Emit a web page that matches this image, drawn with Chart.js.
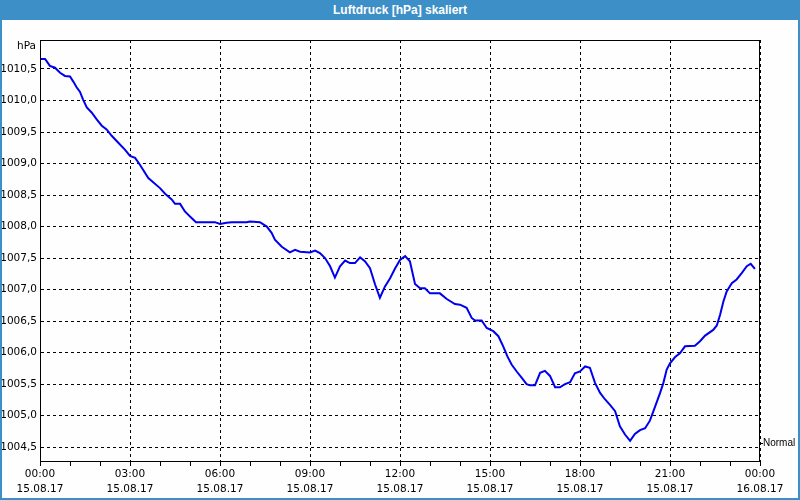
<!DOCTYPE html>
<html>
<head>
<meta charset="utf-8">
<script src="https://cdn.jsdelivr.net/npm/chart.js@4"></script>
<style>
    html, body { margin: 0; padding: 0; background: #fff; }
    #titlebar {
        width: 800px; height: 20px; background: #3d8fc7; color: #fff;
        font: bold 12px "Liberation Sans", Arial, sans-serif;
        text-align: center; line-height: 20px;
    }
    #wrap {
        width: 796px; height: 478px; border: 2px solid #3d8fc7; border-top: none;
        background: #fdfefd;
    }
</style>
</head>
<body>
<div id="titlebar">Luftdruck [hPa] skaliert</div>
<div id="wrap"><canvas id="chart" width="796" height="478"></canvas></div>
<script>
// Time in hours since 15.08.17 00:00
const hours = [0, 0.17, 0.33, 0.5, 0.67, 0.83, 1.0, 1.11, 1.22, 1.33, 1.44, 1.56, 1.72, 1.89,
    2.06, 2.22, 2.39, 2.61, 2.83, 3.0, 3.17, 3.33, 3.61, 4.0, 4.17, 4.39, 4.5, 4.67, 4.83,
    5.0, 5.2, 5.83, 6.0, 6.22, 6.39, 6.89, 7.0, 7.33, 7.56, 7.72, 7.83, 8.06, 8.33, 8.5,
    8.67, 9.0, 9.17, 9.33, 9.5, 9.67, 9.83, 10.0, 10.17, 10.33, 10.5, 10.67, 10.83, 11.0,
    11.17, 11.33, 11.5, 11.67, 11.83, 12.0, 12.17, 12.33, 12.5, 12.67, 12.83, 13.0, 13.33,
    13.56, 13.83, 14.0, 14.22, 14.39, 14.5, 14.72, 14.89, 15.11, 15.28, 15.44, 15.58, 15.72,
    15.89, 16.06, 16.22, 16.33, 16.5, 16.67, 16.83, 17.0, 17.17, 17.33, 17.5, 17.67, 17.83,
    18.0, 18.17, 18.33, 18.5, 18.67, 18.83, 19.0, 19.17, 19.33, 19.5, 19.67, 19.83, 20.0,
    20.17, 20.33, 20.5, 20.67, 20.78, 20.89, 21.0, 21.17, 21.33, 21.5, 21.83, 22.0, 22.17,
    22.44, 22.56, 22.67, 22.78, 22.89, 23.06, 23.22, 23.39, 23.56, 23.69, 23.83];

const pressure = [1010.66, 1010.66, 1010.55, 1010.52, 1010.44, 1010.39, 1010.38, 1010.30,
    1010.21, 1010.14, 1010.01, 1009.89, 1009.81, 1009.70, 1009.60, 1009.54, 1009.44, 1009.33,
    1009.22, 1009.12, 1009.09, 1008.98, 1008.77, 1008.61, 1008.52, 1008.43, 1008.36, 1008.36,
    1008.24, 1008.16, 1008.07, 1008.07, 1008.04, 1008.06, 1008.07, 1008.07, 1008.08, 1008.07,
    1008.00, 1007.90, 1007.79, 1007.68, 1007.59, 1007.63, 1007.60, 1007.59, 1007.62, 1007.58,
    1007.50, 1007.37, 1007.19, 1007.37, 1007.46, 1007.42, 1007.42, 1007.51, 1007.45, 1007.34,
    1007.08, 1006.87, 1007.05, 1007.18, 1007.33, 1007.47, 1007.53, 1007.45, 1007.09, 1007.02,
    1007.02, 1006.94, 1006.94, 1006.85, 1006.77, 1006.76, 1006.71, 1006.55, 1006.51, 1006.51,
    1006.39, 1006.34, 1006.26, 1006.10, 1005.94, 1005.81, 1005.70, 1005.60, 1005.50, 1005.48,
    1005.48, 1005.68, 1005.71, 1005.63, 1005.45, 1005.45, 1005.50, 1005.53, 1005.67, 1005.70,
    1005.78, 1005.76, 1005.52, 1005.36, 1005.26, 1005.17, 1005.07, 1004.83, 1004.70, 1004.60,
    1004.71, 1004.77, 1004.80, 1004.92, 1005.14, 1005.36, 1005.52, 1005.73, 1005.83, 1005.93,
    1005.99, 1006.10, 1006.11, 1006.18, 1006.27, 1006.36, 1006.43, 1006.60, 1006.81, 1006.97,
    1007.10, 1007.16, 1007.26, 1007.37, 1007.41, 1007.33];

const yTicks = [1004.5, 1005.0, 1005.5, 1006.0, 1006.5, 1007.0, 1007.5, 1008.0, 1008.5, 1009.0, 1009.5, 1010.0, 1010.5];
const xTimeLabels = ['00:00', '03:00', '06:00', '09:00', '12:00', '15:00', '18:00', '21:00', '00:00'];
const xDateLabels = ['15.08.17', '15.08.17', '15.08.17', '15.08.17', '15.08.17', '15.08.17', '15.08.17', '15.08.17', '16.08.17'];
const normalValue = 1004.56;

const yMin = 1004.28, yMax = 1010.96;
const font = { family: 'DejaVu Sans', size: 10.5 };

// frame + unit label
const framePlugin = {
    id: 'frame',
    afterDraw(chart) {
        const { ctx, chartArea: a } = chart;
        ctx.save();
        ctx.strokeStyle = '#000';
        ctx.lineWidth = 1;
        ctx.strokeRect(a.left + 0.5, a.top + 0.5, a.right - a.left - 1, a.bottom - a.top);
        ctx.fillStyle = '#000';
        ctx.font = '10.5px "DejaVu Sans"';
        ctx.textAlign = 'right';
        ctx.textBaseline = 'middle';
        ctx.fillText('hPa', a.left - 4, a.top + 6);
        ctx.restore();
    }
};

const ctx = document.getElementById('chart').getContext('2d');
new Chart(ctx, {
    type: 'line',
    data: {
        datasets: [{
            data: hours.map((h, i) => ({ x: h, y: pressure[i] })),
            borderColor: '#0000ee',
            borderWidth: 2,
            pointRadius: 0,
            tension: 0,
            fill: false
        }]
    },
    options: {
        responsive: false,
        animation: false,
        layout: { padding: { top: 20, left: 0, right: 0, bottom: 0 } },
        plugins: {
            legend: { display: false },
            tooltip: { enabled: false }
        },
        scales: {
            x: {
                type: 'linear',
                min: 0,
                max: 24,
                afterFit: s => { s.height = 37; },
                afterBuildTicks: s => {
                    s.ticks = [];
                    for (let h = 0; h <= 24; h++) s.ticks.push({ value: h });
                },
                ticks: {
                    autoSkip: false,
                    maxRotation: 0,
                    padding: 1,
                    color: '#000',
                    font: { ...font, lineHeight: 1.4 },
                    callback: v => v % 3 === 0 ? [xTimeLabels[v / 3], xDateLabels[v / 3]] : ''
                },
                grid: {
                    color: c => (c.tick && c.tick.value % 3 === 0) ? '#000' : 'rgba(0,0,0,0)',
                    tickColor: '#000',
                    tickLength: 5,
                    lineWidth: 1
                },
                border: { display: true, color: '#000', dash: [3, 3] }
            },
            y: {
                min: yMin,
                max: yMax,
                afterFit: s => { s.width = 38; },
                afterBuildTicks: s => { s.ticks = yTicks.map(v => ({ value: v })); },
                ticks: {
                    padding: 3,
                    color: '#000',
                    font: font,
                    callback: v => v.toFixed(1).replace('.', ',')
                },
                grid: { color: '#000', drawTicks: false, lineWidth: 1 },
                border: { display: true, color: '#000', dash: [3, 3] }
            },
            yNormal: {
                position: 'right',
                min: yMin,
                max: yMax,
                afterFit: s => { s.width = 38; },
                afterBuildTicks: s => { s.ticks = [{ value: normalValue }]; },
                ticks: {
                    padding: 0,
                    color: '#000',
                    font: { family: 'Liberation Sans', size: 10 },
                    callback: () => 'Normal'
                },
                grid: { drawOnChartArea: false, tickColor: '#000', tickLength: 3 },
                border: { display: false }
            }
        }
    },
    plugins: [framePlugin]
});
</script>
</body>
</html>
